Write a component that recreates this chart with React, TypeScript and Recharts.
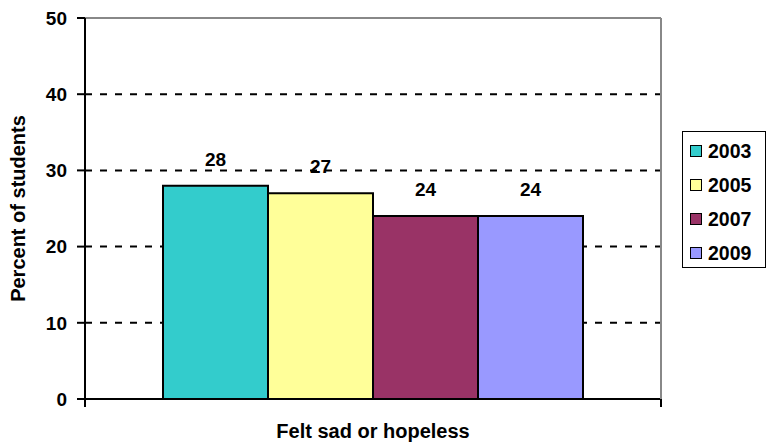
import { BarChart, Bar, XAxis, YAxis, CartesianGrid, Legend, LabelList, ReferenceLine } from "recharts";

const CATEGORIES = ["Felt sad or hopeless"];
const YEARS = ["2003", "2005", "2007", "2009"];
const VALUES = [28, 27, 24, 24];
const COLORS = ["#33CCCC", "#FFFF99", "#993366", "#9999FF"];
const Y_TICKS = [0, 10, 20, 30, 40, 50];

const FONT = "Arial, 'Liberation Sans', sans-serif";

const data = CATEGORIES.map((name) => {
  const row: Record<string, string | number> = { name };
  YEARS.forEach((y, i) => (row[y] = VALUES[i]));
  return row;
});

// category label plus the tick marks at both ends of the axis
function CategoryTick(props: any) {
  const { x, y, width, payload } = props;
  const left = x - width / 2;
  const right = x + width / 2;
  return (
    <g>
      <line x1={left} y1={y} x2={left} y2={y + 8} stroke="#000" strokeWidth={2} />
      <line x1={right} y1={y} x2={right} y2={y + 8} stroke="#000" strokeWidth={2} />
      <text
        x={x}
        y={y + 39}
        textAnchor="middle"
        fontFamily={FONT}
        fontSize={20}
        fontWeight="bold"
        fill="#000"
      >
        {payload.value}
      </text>
    </g>
  );
}

function LegendBox({ payload }: any) {
  return (
    <div
      style={{
        width: 84,
        height: 137,
        boxSizing: "border-box",
        border: "1.5px solid #000",
        background: "#fff",
        padding: "2px 0 0 7px",
        fontFamily: FONT,
      }}
    >
      {(payload || []).map((p: any) => (
        <div key={p.value} style={{ display: "flex", alignItems: "center", height: 34 }}>
          <span
            style={{
              width: 12,
              height: 12,
              background: p.color,
              border: "1.5px solid #000",
              marginRight: 6,
              boxSizing: "border-box",
              flexShrink: 0,
            }}
          />
          <span style={{ fontSize: 19.5, fontWeight: "bold", color: "#000", lineHeight: "19px" }}>{p.value}</span>
        </div>
      ))}
    </div>
  );
}

export default function App() {
  return (
    <div style={{ width: 773, height: 445, background: "#fff" }}>
      <style>{`body{margin:0}`}</style>
      <BarChart
        width={773}
        height={445}
        data={data}
        margin={{ top: 18, right: 111, bottom: 0, left: 0 }}
        barCategoryGap={78}
        barGap={0}
      >
        <ReferenceLine y={50} stroke="#888" strokeWidth={2} />
        <CartesianGrid vertical={false} stroke="#000" strokeDasharray="7 8" strokeWidth={2} />
        <XAxis
          dataKey="name"
          height={46}
          tickSize={0}
          tickMargin={0}
          tickLine={false}
          axisLine={{ stroke: "#000", strokeWidth: 2 }}
          tick={<CategoryTick />}
          interval={0}
        />
        <YAxis
          domain={[0, 50]}
          ticks={Y_TICKS}
          width={85}
          tickSize={8}
          tickMargin={10}
          axisLine={{ stroke: "#000", strokeWidth: 2 }}
          tickLine={{ stroke: "#000", strokeWidth: 2 }}
          tick={{ fontFamily: FONT, fontSize: 19, fontWeight: "bold", fill: "#000" }}
          label={{
            value: "Percent of students",
            angle: -90,
            position: "insideLeft",
            offset: 18,
            fontFamily: FONT,
            fontSize: 20,
            fontWeight: "bold",
            fill: "#000",
            style: { textAnchor: "middle" },
          }}
        />
        <YAxis
          yAxisId="border"
          orientation="right"
          domain={[0, 50]}
          width={1}
          tick={false}
          tickLine={false}
          axisLine={{ stroke: "#888", strokeWidth: 2 }}
        />
        {YEARS.map((y, i) => (
          <Bar key={y} dataKey={y} name={y} fill={COLORS[i]} stroke="#000" strokeWidth={2} isAnimationActive={false}>
            <LabelList
              dataKey={y}
              position="top"
              offset={20}
              fontFamily={FONT}
              fontSize={19}
              fontWeight="bold"
              fill="#000"
            />
          </Bar>
        ))}
        <Legend
          layout="vertical"
          align="center"
          verticalAlign="middle"
          content={<LegendBox />}
          wrapperStyle={{ position: "absolute", left: 682, top: 131, width: 84, height: 137 }}
        />
      </BarChart>
    </div>
  );
}
